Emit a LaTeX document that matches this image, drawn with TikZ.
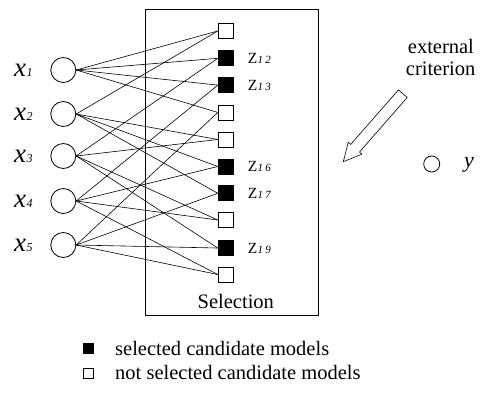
\documentclass[tikz,border=0pt]{standalone}
\usepackage{fontspec}
\setmainfont{Liberation Serif}
\begin{document}
\begin{tikzpicture}[x=1pt,y=-1pt,
  inp/.style={circle,draw,minimum size=25pt,inner sep=0pt,line width=0.8pt},
  outp/.style={circle,draw,minimum size=16pt,inner sep=0pt,line width=0.8pt},
  selbox/.style={draw,fill=black,minimum size=15pt,inner sep=0pt,line width=0.8pt},
  nselbox/.style={draw,fill=white,minimum size=15pt,inner sep=0pt,line width=0.8pt},
  legsel/.style={draw,fill=black,minimum size=10pt,inner sep=0pt,line width=0.8pt},
  legnsel/.style={draw,fill=white,minimum size=10pt,inner sep=0pt,line width=0.8pt},
  link/.style={line width=0.6pt},
  txt/.style={inner sep=0pt,anchor=base west,font=\fontsize{20.5}{24}\selectfont},
  xlab/.style={inner sep=0pt,anchor=base west},
  zlab/.style={inner sep=0pt,anchor=base west}]
\useasboundingbox (0,0) rectangle (486,392);
% selection box
\node[draw,line width=0.9pt,minimum width=172.6pt,minimum height=305.3pt,inner sep=0pt] (box) at (232,162.35) {};
% inputs
\foreach \i/\y in {1/70,2/114,3/156,4/201,5/245}{
  \node[inp] (x\i) at (63.3,\y) {};
  \node[xlab] (lx\i) at (14,\y+6) {{\fontsize{27}{27}\selectfont\itshape x}\kern0.5pt{\fontsize{12}{12}\selectfont\itshape \i}};
}
% candidate squares
\foreach \j/\y/\s in {1/31/nselbox,2/58.3/selbox,3/85.1/selbox,4/112.4/nselbox,5/139.5/nselbox,6/166.5/selbox,7/193.3/selbox,8/220/nselbox,9/248/selbox,10/274.5/nselbox}{
  \node[\s] (s\j) at (225.7,\y) {};
}
% links
\foreach \a/\b in {1/1,1/2,1/3,1/4,2/1,2/5,2/6,2/7,3/2,3/5,3/8,3/9,4/3,4/6,4/8,4/10,5/4,5/7,5/9,5/10}{
  \draw[link] (x\a.east) -- (s\b.west);
}
% redraw squares on top
\foreach \j/\s in {1/nselbox,2/selbox,3/selbox,4/nselbox,5/nselbox,6/selbox,7/selbox,8/nselbox,9/selbox,10/nselbox}{
  \node[\s] at (s\j) {};
}
% Z labels
\foreach \j/\n in {2/12,3/13,6/16,7/17,9/19}{
  \node[zlab] (z\j) at ([xshift=22pt,yshift=-5.3pt]s\j.center) {{\fontsize{15.5}{15}\selectfont Z}\kern0.3pt{\fontsize{11}{11}\selectfont\itshape\addfontfeatures{LetterSpace=20}\n}};
}
\node[txt,anchor=base] (seltxt) at (235.8,308) {Selection};
% external criterion arrow
\draw[line width=0.6pt,line join=miter] (343.3,161.7) -- (361.9,154.2) -- (359.5,152.0) -- (407.2,97.5) -- (398.4,89.9) -- (350.7,144.4) -- (348.3,142.2) -- cycle;
\node[txt] (ext) at (407.7,53) {external};
\node[txt] (crit) at (405.7,75) {criterion};
% output
\node[outp] (y) at (431.7,164) {};
\node[xlab] (ly) at (464,167) {\fontsize{22}{22}\selectfont\itshape y};
% legend
\node[legsel] (l1) at (88.7,348.3) {};
\node[legnsel] (l2) at (88.7,373.3) {};
\node[txt] (t1) at (115,355) {selected candidate models};
\node[txt] (t2) at (115,379.5) {not selected candidate models};
\end{tikzpicture}
\end{document}
